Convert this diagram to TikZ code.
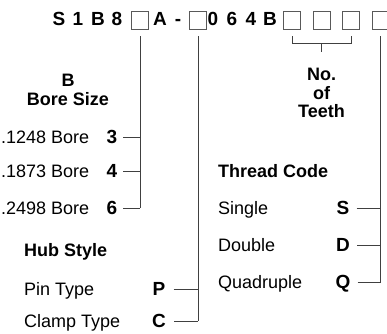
\documentclass[tikz,border=0pt]{standalone}
\usepackage{fontspec}
\setmainfont{Liberation Sans}
\tikzset{
  code/.style={font=\bfseries\fontsize{19}{19}\selectfont,inner sep=0pt,text height=13pt,text depth=0pt},
  hd/.style={font=\bfseries\fontsize{18}{18.5}\selectfont,inner sep=0pt,text height=13pt,text depth=0pt},
  tag/.style={font=\bfseries\fontsize{18}{18.5}\selectfont,inner sep=0pt,align=center},
  lbl/.style={font=\fontsize{18}{18}\selectfont,inner sep=0pt,text height=13pt,text depth=0pt,anchor=west},
  slot/.style={draw=black!65,line width=0.8pt,minimum width=17pt,minimum height=18pt,inner sep=0pt},
  lead/.style={draw=black!75,line width=0.8pt},
}
\begin{document}
\begin{tikzpicture}[x=1pt,y=-1pt]
\useasboundingbox (0,0) rectangle (387,333);
% part number
\foreach \ch/\x in {S/59,1/78,B/98,8/117,A/160,-/178,0/213,6/232,4/251,B/270}
  \node[code] (t\x) at (\x,18.5) {\ch};
\node[slot] (s1) at (140,20) {};
\node[slot] (s2) at (198,20) {};
\node[slot] (s3) at (292,20) {};
\node[slot] (s4) at (321.5,20) {};
\node[slot] (s5) at (351,20) {};
\node[slot] (s6) at (380.5,20) {};

% bore size
\node[hd] (bhd) at (68,80) {B};
\node[hd] (bsz) at (68,99) {Bore Size};
\node[lbl] (b1) at (1,137) {.1248 Bore};
\node[lbl] (b2) at (1,171) {.1873 Bore};
\node[lbl] (b3) at (1,208) {.2498 Bore};
\node[code] (k3) at (112,137) {3};
\node[code] (k4) at (112,171) {4};
\node[code] (k6) at (112,208) {6};
\draw[lead] ([yshift=-7pt]s1.south) -- (s1.south |- k6);
\draw[lead] ([xshift=6pt]k3.east) -- (k3 -| s1);
\draw[lead] ([xshift=6pt]k4.east) -- (k4 -| s1);
\draw[lead] ([xshift=6pt]k6.east) -- (k6 -| s1);

% hub style
\node[hd,anchor=west] (hhd) at (24,250) {Hub Style};
\node[lbl] (h1) at (24,289) {Pin Type};
\node[lbl] (h2) at (24,321) {Clamp Type};
\node[code] (kP) at (159,289) {P};
\node[code] (kC) at (159,321) {C};
\draw[lead] ([yshift=-7pt]s2.south) -- (s2.south |- kC);
\draw[lead] ([xshift=8pt]kP.east) -- (kP -| s2);
\draw[lead] ([xshift=8pt]kC.east) -- (kC -| s2);

% number of teeth
\node[tag,anchor=north] (teeth) at (321.5,68) {No.\\of\\Teeth};
\draw[lead] ([yshift=-7pt]s3.south) |- ([yshift=-14pt]s5.south) -- ([yshift=-7pt]s5.south);
\draw[lead] ([yshift=-14pt]s4.south) -- ([yshift=16pt]teeth.north);

% thread code
\node[hd,anchor=west] (thd) at (218,171) {Thread Code};
\node[lbl] (r1) at (218,208) {Single};
\node[lbl] (r2) at (218,245) {Double};
\node[lbl] (r3) at (218,282) {Quadruple};
\node[code] (kS) at (343,208) {S};
\node[code] (kD) at (343,245) {D};
\node[code] (kQ) at (343,282) {Q};
\draw[lead] ([yshift=-7pt]s6.south) -- (s6.south |- kQ);
\draw[lead] ([xshift=7pt]kS.east) -- (kS -| s6);
\draw[lead] ([xshift=7pt]kD.east) -- (kD -| s6);
\draw[lead] ([xshift=7pt]kQ.east) -- (kQ -| s6);
\end{tikzpicture}
\end{document}
